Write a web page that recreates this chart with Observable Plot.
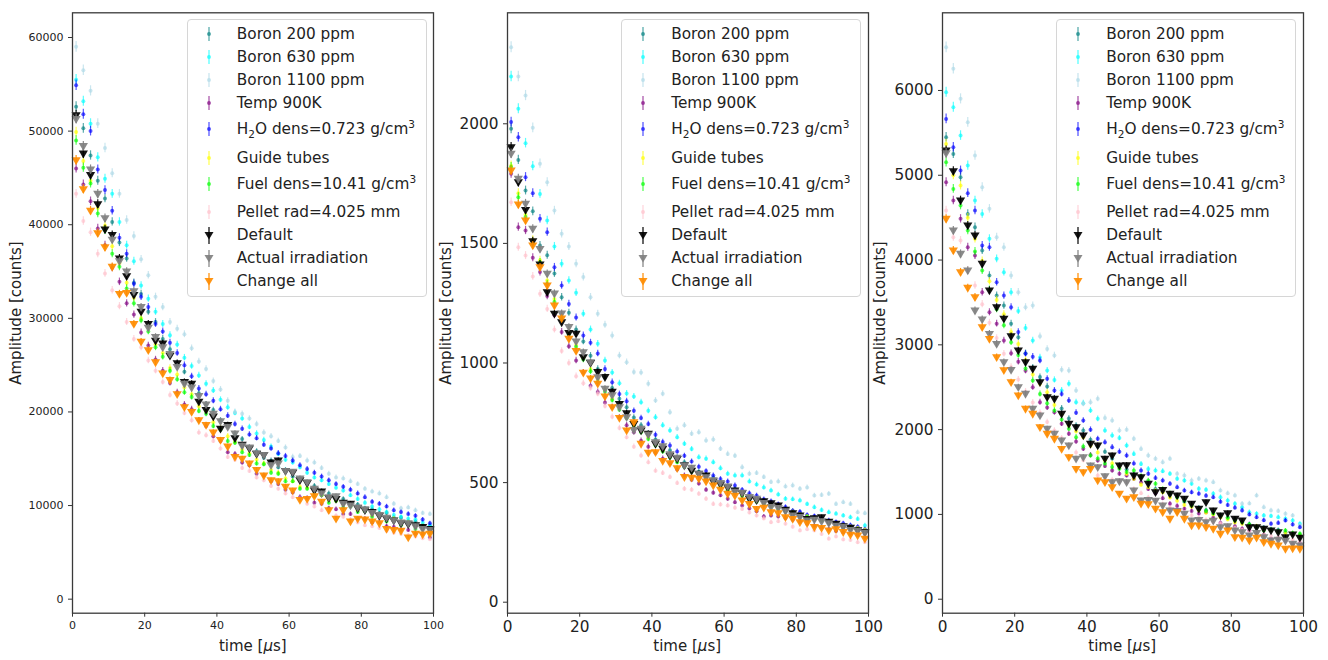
<!DOCTYPE html>
<html><head><meta charset="utf-8">
<script src="https://cdn.jsdelivr.net/npm/d3@7"></script>
<script src="https://cdn.jsdelivr.net/npm/@observablehq/plot@0.6"></script>
<style>
body{margin:0;background:#fff;font-family:"DejaVu Sans",sans-serif;}
#wrap{position:relative;width:1328px;height:660px;overflow:hidden;background:#fff;}
.panel{position:absolute;top:0;}
.ylab{position:absolute;width:220px;height:20px;line-height:20px;text-align:center;font-size:15px;color:#222;transform:rotate(-90deg);white-space:nowrap;}
.xlab{position:absolute;width:200px;height:20px;line-height:20px;text-align:center;font-size:15px;color:#222;white-space:nowrap;}
.leg{position:absolute;border:1px solid #d6d6d6;border-radius:4px;background:rgba(255,255,255,0.8);box-sizing:border-box;}
.leg .row{position:absolute;left:0;height:20px;width:100%;}
.leg .row span{position:absolute;left:49px;top:0;line-height:20px;font-size:15.3px;color:#222;white-space:nowrap;}
.leg sub,.leg sup{font-size:10.5px;line-height:0;}
</style></head>
<body><div id="wrap"></div>
<script>
const time = [1,3,5,7,9,11,13,15,17,19,21,23,25,27,29,31,33,35,37,39,41,43,45,47,49,51,53,55,57,59,61,63,65,67,69,71,73,75,77,79,81,83,85,87,89,91,93,95,97,99];

const seriesNames = ["Boron 200 ppm","Boron 630 ppm","Boron 1100 ppm","Temp 900K","H2O dens=0.723 g/cm3","Guide tubes","Fuel dens=10.41 g/cm3","Pellet rad=4.025 mm","Default","Actual irradiation","Change all"];
const legendHtml = ["Boron 200 ppm","Boron 630 ppm","Boron 1100 ppm","Temp 900K","H<sub>2</sub>O dens=0.723 g/cm<sup>3</sup>","Guide tubes","Fuel dens=10.41 g/cm<sup>3</sup>","Pellet rad=4.025 mm","Default","Actual irradiation","Change all"];
const xTicks = [0,20,40,60,80,100];

// ---- Panel 1 ----
const A_b200 = [52600,50300,47400,44700,42800,40300,38100,36400,33800,32600,
30700,29600,27800,26700,25100,24300,22800,22000,20800,20200,
19100,18500,17600,17100,16200,15800,15100,14800,14100,13800,
13100,12800,12300,12100,11500,11300,10800,10700,10200,10100,
9700,9600,9200,9200,8700,8700,8300,8300,7900,7800];
const A_b630 = [55500,53200,50800,47200,44900,43300,40300,37800,36100,33500,
32100,30700,29400,28200,27200,25800,24900,23900,23000,22300,
21300,20500,19900,19300,18400,17700,17000,16300,15500,14900,
14600,14100,13500,13000,12700,12300,11900,11600,11100,10700,
10300,9900,9600,9300,9000,8800,8600,8500,8200,7900];
const A_b1100 = [59000,56500,54300,50800,48200,45500,43300,40500,38800,36300,
34600,32300,31200,29600,28900,28300,26800,25400,24600,23300,
22400,21200,20000,19800,19300,18700,17800,17400,16900,16200,
15200,15300,14800,14600,14000,13400,13000,12900,12600,12300,
11800,11500,11300,10900,10200,9700,9800,9500,9200,9100];
const A_temp = [46000,44300,42500,39600,37800,35400,33900,31600,30400,28500,
27100,25600,24400,23100,22100,20800,20300,19100,18500,17400,
16900,15700,15500,14600,14300,13400,13200,12600,12300,11700,
11400,10900,10800,10300,10200,9700,9600,9100,9100,8600,
8600,8200,8200,7800,7700,7400,7400,7000,7000,6600];
const A_h2o = [54900,51800,50000,45900,43700,41500,38600,36900,33700,32300,
31200,29400,28600,27400,26300,25000,23800,22500,21900,21200,
20300,19600,18700,18200,17600,17200,16500,16100,15600,15300,
14800,14300,13900,13500,13100,12700,12300,12000,11700,11300,
10900,10400,10200,9900,9500,9300,9100,8900,8500,8100];
const A_guide = [49900,46800,44700,41800,39900,37700,35900,33800,32200,30000,
29100,27200,26300,24700,24000,22600,21900,20600,20100,18900,
18300,17400,16800,16000,15600,14900,14500,13800,13500,12900,
12600,12000,11900,11300,11100,10600,10500,10100,10000,9500,
9500,9000,9000,8600,8600,8200,8200,7800,7800,7400];
const A_fuel = [49000,46100,44400,41200,39400,36900,35500,33200,31600,29800,
28600,26900,25900,24400,23500,22100,21600,20100,19800,18500,
18100,16900,16700,15700,15400,14500,14400,13500,13400,12600,
12600,11800,11800,11000,11100,10300,10500,9800,9900,9300,
9400,8800,9000,8300,8500,7900,8100,7500,7700,7100];
const A_pellet = [43300,40400,39200,36900,34800,33000,31300,29600,27800,26900,
25500,24400,23200,21800,20900,19900,19100,17800,17500,16900,
16100,15200,14900,14000,13700,13000,12700,12100,11800,11300,
10900,10700,10200,9900,9500,9300,8900,8800,8500,8200,
7900,7800,7600,7300,7100,7000,6800,6700,6500,6400];
const A_default = [51700,47600,45300,42200,39500,38900,36400,34500,32500,30700,
29400,27600,27300,26000,25200,23200,23000,21100,20200,19500,
18200,18600,17200,16500,16100,15500,15400,14600,14800,13700,
13500,12700,12400,11600,11500,10800,10700,10300,10200,9700,
9500,9300,8900,8600,8400,8100,8000,7900,7700,7500];
const A_actual = [51300,48400,45900,43300,40700,38400,36100,35000,32900,31200,
29000,28000,26900,26200,24800,23000,22600,21700,20800,19800,
19000,18400,17700,16400,16200,15600,15400,14300,14500,13700,
13600,12900,12500,11800,11300,10900,11000,10200,10000,9800,
9600,9200,9000,8700,8400,8200,8100,7800,7500,7400];
const A_all = [46900,43800,41500,39100,37600,35500,32600,32700,29400,27500,
26600,25300,24100,23400,21900,20500,20000,19100,18600,17800,
17000,16300,15200,15000,14500,13800,13200,12700,12600,12000,
11600,10600,10700,11000,10400,9500,8600,9500,8300,8600,
8500,8300,8100,7500,7400,7300,6600,7000,6900,7000];

// ---- Panel 2 ----
const B_b200 = [1979,1849,1721,1634,1491,1450,1374,1275,1210,1140,
1090,1030,975,940,895,850,815,772,740,705,
680,655,635,606,585,560,545,530,520,500,
485,474,458,446,436,422,410,396,390,380,
372,360,352,342,336,330,322,318,308,300];
const B_b630 = [2198,2063,1919,1823,1707,1596,1487,1415,1345,1294,
1206,1140,1080,1010,960,915,872,860,836,800,
773,740,718,690,662,640,606,600,585,560,
537,530,530,505,492,480,467,450,432,430,
425,410,397,385,376,370,362,355,348,321];
const B_b1100 = [2320,2198,2118,1983,1833,1756,1637,1540,1487,1415,
1359,1275,1206,1160,1115,1031,1003,962,960,913,
843,871,794,725,740,704,710,676,680,641,
620,612,564,537,540,523,502,505,484,488,
474,480,446,448,453,411,418,411,376,372];
const B_temp = [1791,1568,1554,1440,1380,1280,1200,1130,1070,1010,
960,905,879,835,815,772,740,710,675,650,
625,600,580,555,530,512,496,470,458,447,
432,418,404,392,380,358,362,358,352,345,
336,328,320,312,305,298,292,286,280,272];
const B_h2o = [2007,1944,1777,1710,1603,1547,1400,1324,1247,1190,
1115,1085,1040,975,920,870,840,800,770,745,
700,670,655,630,612,588,566,548,530,515,
505,488,470,455,446,430,422,410,398,382,
378,365,360,350,342,335,330,322,315,305];
const B_guide = [1825,1710,1620,1515,1430,1345,1268,1195,1130,1075,
1022,975,930,888,850,812,775,745,715,688,
660,635,612,590,570,550,532,516,500,486,
472,460,447,435,424,413,403,394,384,376,
366,358,350,343,336,328,321,315,309,302];
const B_fuel = [1819,1693,1610,1500,1420,1330,1255,1185,1120,1068,
1015,965,920,880,845,805,770,738,710,682,
655,630,605,585,565,545,528,512,496,482,
468,455,444,430,420,410,400,390,380,372,
362,355,346,339,331,324,318,310,304,296];
const B_pellet = [1672,1484,1449,1362,1289,1226,1140,1050,1000,945,
915,895,871,820,775,728,690,650,613,585,
550,540,523,498,474,470,453,432,411,408,
404,395,390,375,362,350,334,338,328,315,
300,305,300,285,265,275,262,260,251,251];
const B_default = [1902,1756,1640,1509,1412,1296,1206,1170,1125,1122,
1024,1000,962,941,880,829,790,745,718,704,
662,641,612,599,572,550,537,530,505,492,
480,467,455,432,426,422,414,404,386,372,
362,348,351,355,336,328,318,311,301,293];
const B_actual = [1875,1770,1666,1561,1477,1373,1290,1207,1150,1090,
1045,1003,940,892,865,815,773,720,725,700,
669,652,618,604,571,562,536,522,510,498,
484,462,458,440,432,415,398,394,380,362,
356,342,345,338,330,320,314,302,298,290];
const B_all = [1805,1663,1596,1491,1400,1324,1240,1186,1101,1050,
959,935,913,860,815,770,718,752,662,625,
627,590,581,560,523,520,516,505,488,470,
453,445,425,410,390,395,376,372,355,348,
334,330,314,310,300,305,293,282,279,265];

// ---- Panel 3 ----
const C_b200 = [5448,5252,4976,4544,4387,4112,3817,3581,3463,3250,
3090,2900,2730,2620,2510,2370,2250,2130,2050,1990,
1880,1800,1740,1660,1570,1530,1470,1440,1370,1300,
1270,1230,1210,1150,1100,1080,1050,1030,990,960,
945,910,885,855,845,825,815,790,760,755];
const C_b630 = [5979,5802,5468,5114,4702,4544,4250,4014,3856,3620,
3400,3200,3050,2850,2697,2586,2461,2540,2323,2312,
2225,2127,1989,1930,1900,1812,1714,1596,1537,1518,
1510,1479,1420,1400,1361,1302,1290,1243,1203,1164,
1125,1085,1026,1007,987,980,967,948,928,889];
const C_b1100 = [6509,6255,5901,5625,5232,4858,4604,4269,4151,3817,
3620,3443,3463,3100,2950,2875,2705,2697,2461,2304,
2323,2363,2138,2107,1989,2000,1891,1773,1694,1656,
1616,1656,1479,1459,1400,1420,1400,1380,1282,1250,
1223,1125,1130,1223,1085,1046,1040,1007,987,869];
const C_temp = [4917,4702,4486,4151,4053,3620,3384,3250,3050,2900,
2800,2695,2500,2323,2260,2205,2070,1950,1860,1774,
1700,1635,1570,1518,1480,1460,1420,1380,1300,1250,
1190,1125,1100,1066,1040,1010,1026,960,900,849,
860,830,810,780,760,712,720,690,653,660];
const C_h2o = [5664,5330,5055,4788,4584,4171,4151,3738,3581,3443,
3150,2894,2860,2815,2600,2461,2420,2343,2200,2107,
2000,1891,1850,1793,1740,1694,1600,1518,1480,1430,
1400,1361,1320,1282,1260,1243,1220,1203,1150,1110,
1080,1046,1000,967,930,889,900,928,880,849];
const C_guide = [5369,5000,4879,4500,4250,3990,3750,3530,3360,3150,
3010,2820,2650,2540,2440,2290,2180,2050,1980,1910,
1810,1730,1640,1600,1560,1480,1420,1350,1320,1280,
1260,1200,1160,1110,1090,1050,1020,1000,965,940,
905,890,870,860,830,810,790,780,765,750];
const C_fuel = [5153,4839,4643,4348,4100,3876,3650,3420,3230,3031,
2880,2720,2580,2420,2310,2225,2120,2010,1910,1800,
1694,1660,1600,1560,1540,1500,1518,1450,1400,1361,
1300,1250,1203,1160,1110,1066,1040,1010,987,960,
930,908,880,850,810,820,800,810,780,771];
const C_pellet = [4584,4269,4230,3876,3700,3480,3260,3080,2894,2740,
2590,2450,2320,2200,2090,1990,1900,1810,1730,1640,
1560,1459,1440,1410,1390,1380,1300,1250,1200,1160,
1120,1080,1050,1020,990,960,935,910,890,865,
840,815,800,780,760,745,730,715,700,685];
const C_default = [5291,5047,4702,4407,4289,3955,3640,3443,3307,3100,
2933,2795,2717,2559,2382,2363,2186,2068,2028,1930,
1832,1812,1656,1694,1577,1580,1459,1439,1361,1262,
1289,1243,1223,1184,1125,1066,1144,1046,987,1014,
948,928,849,850,830,810,790,731,763,724];
const C_actual = [5260,4348,4073,3876,3404,3300,3129,3011,2795,2704,
2500,2422,2245,2166,2009,1950,1871,1812,1656,1675,
1577,1557,1450,1380,1390,1380,1282,1164,1170,1160,
1105,1046,1040,1007,928,935,908,925,849,860,
810,790,751,780,731,692,700,690,653,633];
const C_all = [4486,4112,3856,3672,3561,3207,3070,2854,2700,2559,
2402,2245,2186,2028,1950,1891,1773,1675,1537,1498,
1537,1400,1380,1321,1243,1184,1203,1125,1120,1066,
1026,948,1026,948,869,870,849,830,771,810,
731,725,692,724,672,653,633,594,598,594];

// ---- styles / layout (not data) ----
const colors = ["#008080","#00ffff","#add8e6","#800080","#0000ff","#ffff00","#00ff00","#ffc0cb","#000000","#808080","#ff8c00"];
const isTriangle = [false,false,false,false,false,false,false,false,true,true,true];

const panels = [
  {series:[A_b200,A_b630,A_b1100,A_temp,A_h2o,A_guide,A_fuel,A_pellet,A_default,A_actual,A_all],
   yDomain:[-1500,62640], yTicks:[0,10000,20000,30000,40000,50000,60000], frameLeft:72.3, tickFont:11, ylabX:16},
  {series:[B_b200,B_b630,B_b1100,B_temp,B_h2o,B_guide,B_fuel,B_pellet,B_default,B_actual,B_all],
   yDomain:[-46,2464], yTicks:[0,500,1000,1500,2000], frameLeft:506.7, tickFont:15.3, ylabX:446},
  {series:[C_b200,C_b630,C_b1100,C_temp,C_h2o,C_guide,C_fuel,C_pellet,C_default,C_actual,C_all],
   yDomain:[-165,6916], yTicks:[0,1000,2000,3000,4000,5000,6000], frameLeft:941.7, tickFont:15.3, ylabX:880}
];

const downTri = {
  draw(context, size) {
    const k = Math.sqrt(size / Math.PI);
    context.moveTo(-1.15 * k, -0.75 * k);
    context.lineTo(1.15 * k, -0.75 * k);
    context.lineTo(0, 1.2 * k);
    context.closePath();
  }
};

const wrap = document.getElementById("wrap");
const frameW = 361, mL = 70, mR = 6, mT = 12.3, mB = 47.3;

panels.forEach((p) => {
  const vmax = d3.max(p.series.flat());
  const marks = [];
  p.series.forEach((vals, s) => {
    const rows = time.map((t, i) => ({t, v: vals[i], e: 0.007 * vals[i] + 0.0028 * vmax}));
    const op = isTriangle[s] ? 0.92 : 0.65;
    marks.push(Plot.ruleX(rows, {x: "t", y1: d => d.v - d.e, y2: d => d.v + d.e, stroke: colors[s], strokeOpacity: op, strokeWidth: 1.2}));
    if (isTriangle[s]) {
      marks.push(Plot.dot(rows, {x: "t", y: "v", symbol: downTri, r: 4, fill: colors[s], fillOpacity: op, stroke: "none"}));
    } else {
      marks.push(Plot.dot(rows, {x: "t", y: "v", r: 2, fill: colors[s], fillOpacity: op, stroke: "none"}));
    }
  });
  marks.push(Plot.axisX({ticks: xTicks, tickFormat: d => String(d), tickSize: 4, tickPadding: 4, label: null, stroke: "#333"}));
  marks.push(Plot.axisY({ticks: p.yTicks, tickFormat: d => String(d), tickSize: 4, tickPadding: 5, label: null, stroke: "#333"}));
  marks.push(Plot.frame({stroke: "#3a3a3a", strokeWidth: 1.3}));

  const svg = Plot.plot({
    width: frameW + mL + mR, height: 660,
    marginLeft: mL, marginRight: mR, marginTop: mT, marginBottom: mB,
    x: {domain: [0, 100]},
    y: {domain: p.yDomain},
    style: {fontFamily: "DejaVu Sans", fontSize: p.tickFont + "px", color: "#222", background: "transparent", overflow: "visible"},
    marks
  });
  svg.classList.add("panel");
  svg.style.left = (p.frameLeft - mL) + "px";
  wrap.appendChild(svg);

  const yl = document.createElement("div");
  yl.className = "ylab";
  yl.textContent = "Amplitude [counts]";
  yl.style.left = (p.ylabX - 110) + "px";
  yl.style.top = (312.5 - 10) + "px";
  wrap.appendChild(yl);

  const xl = document.createElement("div");
  xl.className = "xlab";
  xl.innerHTML = "time [<i>μ</i>s]";
  xl.style.left = (p.frameLeft + frameW / 2 - 100) + "px";
  xl.style.top = "636px";
  wrap.appendChild(xl);

  const leg = document.createElement("div");
  leg.className = "leg";
  leg.style.left = (p.frameLeft + 114.5) + "px";
  leg.style.top = "19px";
  leg.style.width = "240px";
  leg.style.height = "278px";
  const rowY = [14, 37, 60, 83, 109, 138, 164, 192, 215, 238, 261];
  seriesNames.forEach((name, s) => {
    const row = document.createElement("div");
    row.className = "row";
    row.style.top = (rowY[s] - 10) + "px";
    const op = isTriangle[s] ? 0.92 : 0.65;
    let glyph;
    if (isTriangle[s]) {
      glyph = `<line x1="10" y1="2" x2="10" y2="19" stroke="${colors[s]}" stroke-opacity="${op}" stroke-width="1.3"/><path d="M5.5,7 L14.5,7 L10,14.5 Z" fill="${colors[s]}" fill-opacity="${op}"/>`;
    } else {
      glyph = `<line x1="10" y1="3" x2="10" y2="17" stroke="${colors[s]}" stroke-opacity="${op}" stroke-width="1.3"/><circle cx="10" cy="10" r="2" fill="${colors[s]}" fill-opacity="${op}"/>`;
    }
    row.innerHTML = `<svg width="20" height="20" style="position:absolute;left:11px;top:0">${glyph}</svg><span title="${name}">${legendHtml[s]}</span>`;
    leg.appendChild(row);
  });
  wrap.appendChild(leg);
});
</script>
</body></html>
